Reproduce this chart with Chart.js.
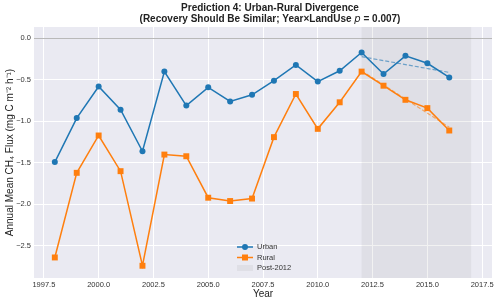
<!DOCTYPE html>
<html>
<head>
<meta charset="utf-8">
<script src="https://cdn.jsdelivr.net/npm/chart.js@4"></script>
<style>
  html, body { margin: 0; padding: 0; background: #fff; }
  #wrap { width: 500px; height: 302px; }
</style>
</head>
<body>
<div id="wrap"><canvas id="fluxChart" width="500" height="302"></canvas></div>
<script>
// values
var years = [1998, 1999, 2000, 2001, 2002, 2003, 2004, 2005, 2006, 2007,
             2008, 2009, 2010, 2011, 2012, 2013, 2014, 2015, 2016];
var urban = [-1.49, -0.96, -0.58, -0.86, -1.36, -0.40, -0.81, -0.59, -0.76, -0.68,
             -0.51, -0.32, -0.52, -0.39, -0.17, -0.43, -0.21, -0.30, -0.47];
var rural = [-2.64, -1.62, -1.17, -1.60, -2.74, -1.40, -1.42, -1.92, -1.96, -1.93,
             -1.19, -0.67, -1.09, -0.77, -0.40, -0.57, -0.74, -0.84, -1.11];
var trendYears = [2012, 2016];
var urbanTrend = [-0.22, -0.41];
var ruralTrend = [-0.39, -1.07];
var shadeYears = [2012, 2017];
var xTicks = [1997.5, 2000, 2002.5, 2005, 2007.5, 2010, 2012.5, 2015, 2017.5];
var yTicks = [0, -0.5, -1, -1.5, -2, -2.5];

var BLUE = '#1f77b4';
var ORANGE = '#ff7f0e';
var SHADE = 'rgba(128,128,128,0.1)';
var FONT = '"Liberation Sans", Arial, sans-serif';

function pts(xs, ys) {
    return xs.map(function (x, i) { return { x: x, y: ys[i] }; });
}
function fmt(v) {
    return v.toFixed(1).replace('-', '\u2212');
}

var backdrop = {
    id: 'backdrop',
    beforeDraw: function (chart) {
        var a = chart.chartArea, c = chart.ctx;
        c.save();
        c.fillStyle = '#eaeaf2';
        c.fillRect(a.left, a.top, a.right - a.left, a.bottom - a.top);
        c.restore();
    },
    beforeDatasetsDraw: function (chart) {
        var a = chart.chartArea, c = chart.ctx;
        var xs = chart.scales.x, ys = chart.scales.y;
        c.save();
        // post-2012 span
        var x0 = xs.getPixelForValue(shadeYears[0]);
        var x1 = xs.getPixelForValue(shadeYears[1]);
        c.fillStyle = SHADE;
        c.fillRect(x0, a.top, x1 - x0, a.bottom - a.top);
        // zero line
        var y0 = Math.round(ys.getPixelForValue(0)) + 0.5;
        c.strokeStyle = 'rgba(128,128,128,0.55)';
        c.lineWidth = 1;
        c.beginPath();
        c.moveTo(a.left, y0);
        c.lineTo(a.right, y0);
        c.stroke();
        c.restore();
    }
};

var titleAndLegend = {
    id: 'titleAndLegend',
    afterDraw: function (chart) {
        var c = chart.ctx;
        c.save();
        c.fillStyle = '#222';
        c.textBaseline = 'middle';
        c.textAlign = 'left';
        var cx = 270;
        // line 1
        c.font = 'bold 10px ' + FONT;
        var l1 = 'Prediction 4: Urban-Rural Divergence';
        c.fillText(l1, cx - c.measureText(l1).width / 2, 8.5);
        // line 2 with italic p
        var a = '(Recovery Should Be Similar; Year\u00d7LandUse ';
        var p = 'p';
        var b = ' = 0.007)';
        c.font = 'bold 10px ' + FONT;
        var wa = c.measureText(a).width, wb = c.measureText(b).width;
        c.font = 'italic 10px "DejaVu Sans", sans-serif';
        var wp = c.measureText(p).width;
        var x = cx - (wa + wp + wb) / 2;
        c.font = 'bold 10px ' + FONT;
        c.fillText(a, x, 19.5);
        c.font = 'italic 10px "DejaVu Sans", sans-serif';
        c.fillText(p, x + wa, 19.5);
        c.font = 'bold 10px ' + FONT;
        c.fillText(b, x + wa + wp, 19.5);

        // legend, lower centre inside the axes
        var lx = 237, lw = 16, tx = 257;
        var rows = [247, 257.5, 268];
        c.font = '7.5px ' + FONT;
        c.fillStyle = '#333';
        ['Urban', 'Rural', 'Post-2012'].forEach(function (t, i) {
            c.fillText(t, tx, rows[i]);
        });
        c.lineWidth = 1.5;
        c.strokeStyle = BLUE;
        c.beginPath(); c.moveTo(lx, rows[0]); c.lineTo(lx + lw, rows[0]); c.stroke();
        c.fillStyle = BLUE;
        c.beginPath(); c.arc(lx + lw / 2, rows[0], 3, 0, Math.PI * 2); c.fill();
        c.strokeStyle = ORANGE;
        c.beginPath(); c.moveTo(lx, rows[1]); c.lineTo(lx + lw, rows[1]); c.stroke();
        c.fillStyle = ORANGE;
        c.fillRect(lx + lw / 2 - 3, rows[1] - 3, 6, 6);
        c.fillStyle = SHADE;
        c.fillRect(lx, rows[2] - 3, lw, 6);
        c.restore();
    }
};

var ctx = document.getElementById('fluxChart').getContext('2d');
var fluxChart = new Chart(ctx, {
    type: 'line',
    data: {
        datasets: [
            {
                label: 'Urban',
                data: pts(years, urban),
                borderColor: BLUE,
                backgroundColor: BLUE,
                borderWidth: 1.5,
                pointStyle: 'circle',
                pointRadius: 3,
                pointBorderWidth: 0,
                tension: 0
            },
            {
                label: 'Rural',
                data: pts(years, rural),
                borderColor: ORANGE,
                backgroundColor: ORANGE,
                borderWidth: 1.5,
                pointStyle: 'rect',
                pointRadius: 4.2,
                pointBorderWidth: 0,
                tension: 0
            },
            {
                label: 'Urban trend',
                data: pts(trendYears, urbanTrend),
                borderColor: 'rgba(31,119,180,0.6)',
                borderWidth: 1.2,
                borderDash: [4, 2],
                pointRadius: 0
            },
            {
                label: 'Rural trend',
                data: pts(trendYears, ruralTrend),
                borderColor: 'rgba(255,127,14,0.6)',
                borderWidth: 1.2,
                borderDash: [4, 2],
                pointRadius: 0
            }
        ]
    },
    options: {
        responsive: false,
        animation: false,
        layout: {
            padding: { left: 0, right: 8, top: 27, bottom: 0 }
        },
        plugins: {
            legend: { display: false },
            title: { display: false },
            tooltip: { enabled: false }
        },
        scales: {
            x: {
                type: 'linear',
                min: 1997.05,
                max: 2017.95,
                afterBuildTicks: function (scale) {
                    scale.ticks = xTicks.map(function (v) { return { value: v }; });
                },
                afterFit: function (scale) { scale.height = 24; },
                grid: { color: '#ffffff', lineWidth: 1, drawTicks: false },
                border: { display: false },
                ticks: {
                    padding: 2,
                    color: '#333',
                    font: { family: FONT, size: 7.5 },
                    maxRotation: 0,
                    callback: function (v) { return v.toFixed(1); }
                },
                title: {
                    display: true,
                    text: 'Year',
                    color: '#222',
                    padding: 2,
                    font: { family: FONT, size: 10 }
                }
            },
            y: {
                min: -2.8875,
                max: 0.1375,
                afterBuildTicks: function (scale) {
                    scale.ticks = yTicks.map(function (v) { return { value: v }; });
                },
                afterFit: function (scale) { scale.width = 34; },
                grid: { color: '#ffffff', lineWidth: 1, drawTicks: false },
                border: { display: false },
                ticks: {
                    padding: 3,
                    color: '#333',
                    font: { family: FONT, size: 7.5 },
                    callback: function (v) { return fmt(v); }
                },
                title: {
                    display: true,
                    text: 'Annual Mean CH\u2084 Flux (mg C m\u207b\u00b2 h\u207b\u00b9)',
                    color: '#222',
                    padding: { top: 4, bottom: 0 },
                    font: { family: FONT, size: 10 }
                }
            }
        }
    },
    plugins: [backdrop, titleAndLegend]
});
</script>
</body>
</html>
